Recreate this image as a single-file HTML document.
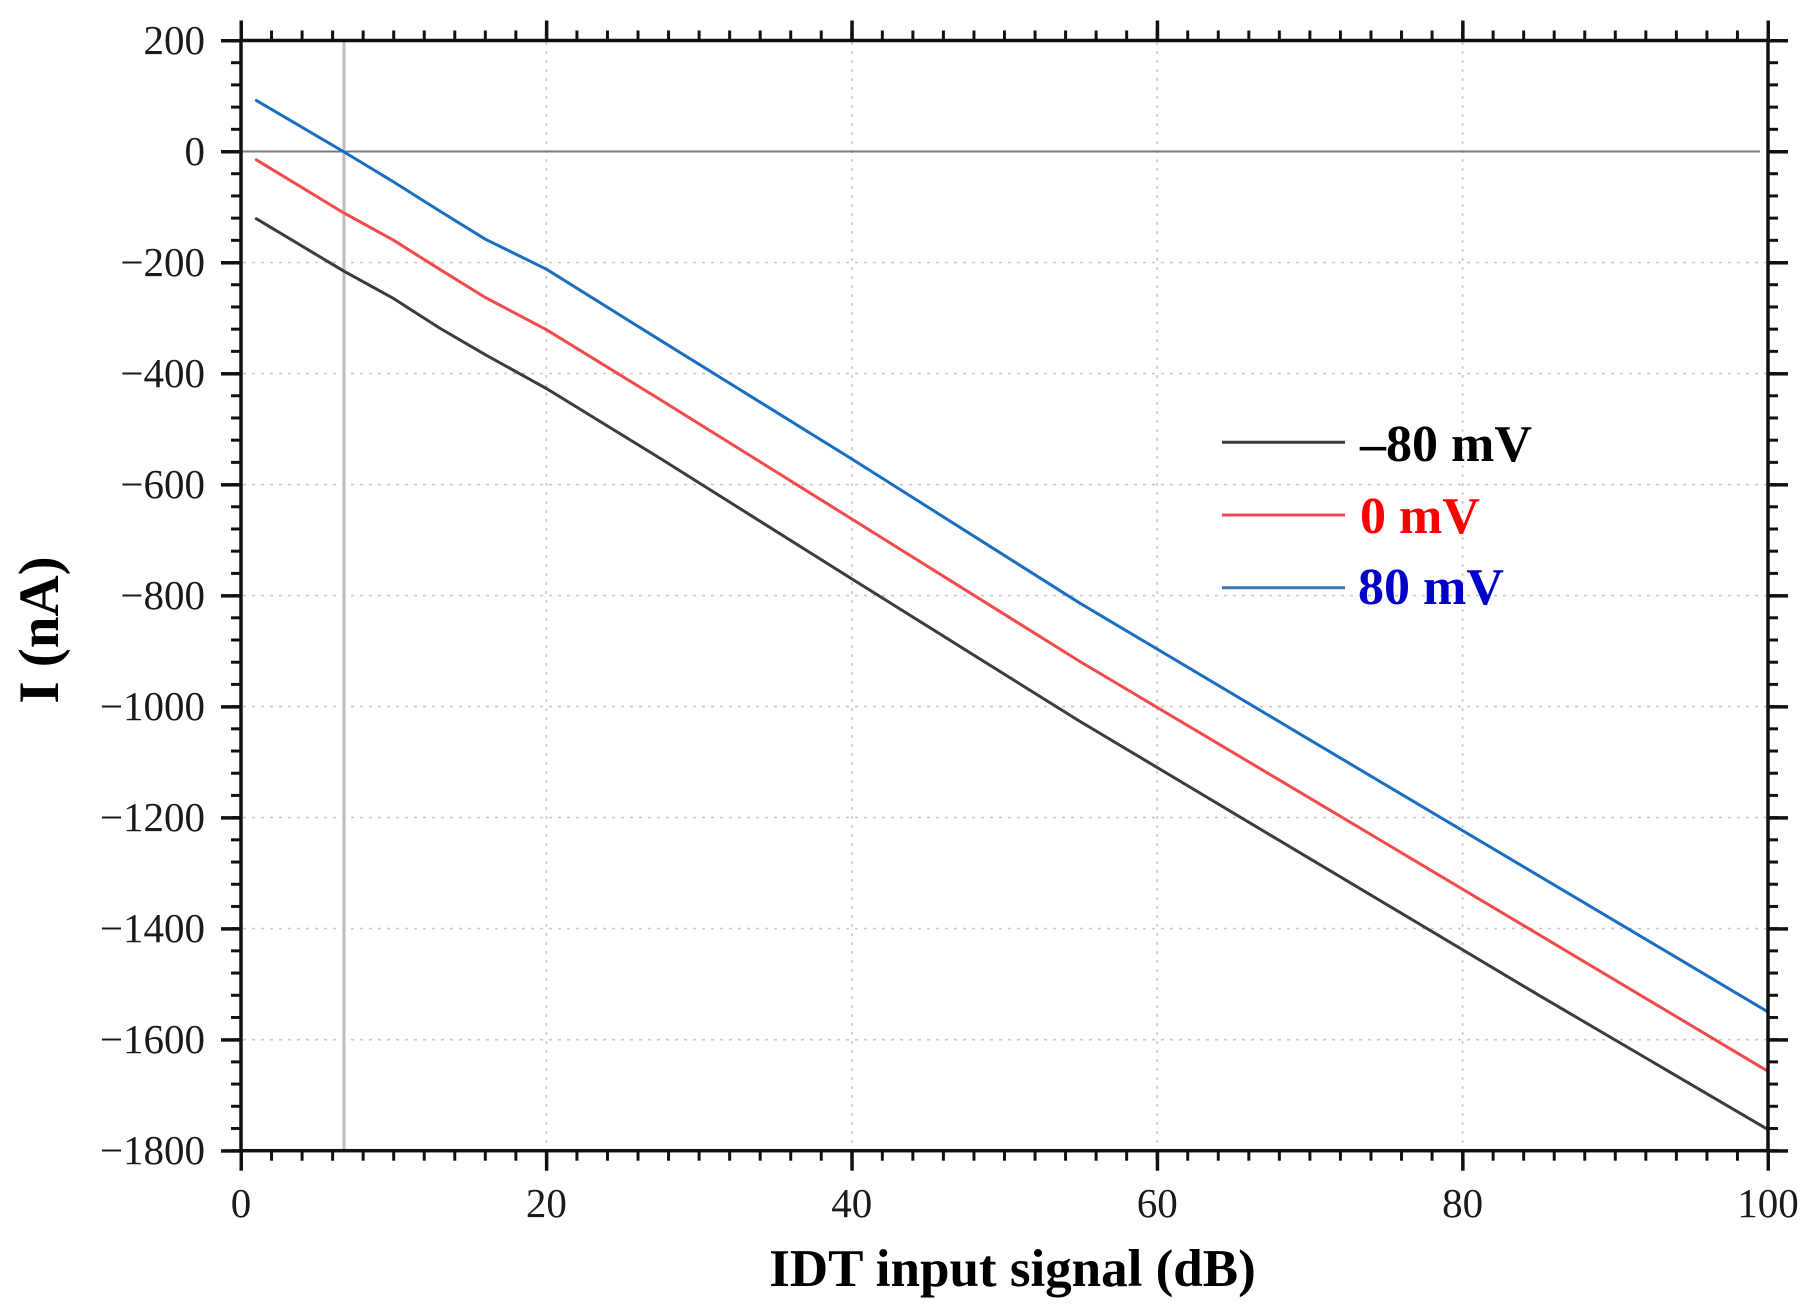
<!DOCTYPE html>
<html>
<head>
<meta charset="utf-8">
<style>
html,body{margin:0;padding:0;background:#fff;}
svg{display:block;}
text{font-family:"Liberation Serif","Times New Roman",serif;}
</style>
</head>
<body>
<svg width="1818" height="1314" viewBox="0 0 1818 1314" xmlns="http://www.w3.org/2000/svg">
<defs>
  <pattern id="xminB" patternUnits="userSpaceOnUse" x="239.5" y="1150.7" width="30.54" height="10"><rect x="0" y="0" width="3" height="10" fill="#111"/></pattern>
  <pattern id="xmajB" patternUnits="userSpaceOnUse" x="239.5" y="1150.7" width="305.4" height="20"><rect x="0" y="0" width="3.5" height="20" fill="#111"/></pattern>
  <pattern id="xminT" patternUnits="userSpaceOnUse" x="239.5" y="30.5" width="30.54" height="10"><rect x="0" y="0" width="3" height="10" fill="#111"/></pattern>
  <pattern id="xmajT" patternUnits="userSpaceOnUse" x="239.5" y="20.5" width="305.4" height="20"><rect x="0" y="0" width="3.5" height="20" fill="#111"/></pattern>
  <pattern id="yminL" patternUnits="userSpaceOnUse" x="231" y="39" width="10" height="22.204"><rect x="0" y="0" width="10" height="3" fill="#111"/></pattern>
  <pattern id="ymajL" patternUnits="userSpaceOnUse" x="221" y="39" width="20" height="111.02"><rect x="0" y="0" width="20" height="3.5" fill="#111"/></pattern>
  <pattern id="yminR" patternUnits="userSpaceOnUse" x="1768" y="39" width="10" height="22.204"><rect x="0" y="0" width="10" height="3" fill="#111"/></pattern>
  <pattern id="ymajR" patternUnits="userSpaceOnUse" x="1768" y="39" width="20" height="111.02"><rect x="0" y="0" width="20" height="3.5" fill="#111"/></pattern>
</defs>

<!-- grid -->
<g stroke="#c8c8c8" stroke-width="1.6" stroke-dasharray="3 6" fill="none">
  <line x1="546.4" y1="42" x2="546.4" y2="1149"/>
  <line x1="851.8" y1="42" x2="851.8" y2="1149"/>
  <line x1="1157.2" y1="42" x2="1157.2" y2="1149"/>
  <line x1="1462.6" y1="42" x2="1462.6" y2="1149"/>
  <line x1="243" y1="262.5" x2="1766" y2="262.5"/>
  <line x1="243" y1="373.5" x2="1766" y2="373.5"/>
  <line x1="243" y1="484.6" x2="1766" y2="484.6"/>
  <line x1="243" y1="595.6" x2="1766" y2="595.6"/>
  <line x1="243" y1="706.6" x2="1766" y2="706.6"/>
  <line x1="243" y1="817.6" x2="1766" y2="817.6"/>
  <line x1="243" y1="928.6" x2="1766" y2="928.6"/>
  <line x1="243" y1="1039.7" x2="1766" y2="1039.7"/>
</g>

<!-- zero line and vertical marker -->
<line x1="241" y1="151.5" x2="1760" y2="151.5" stroke="#7a7a7a" stroke-width="2"/>
<line x1="344" y1="40.5" x2="344" y2="1150.7" stroke="#bdbdbd" stroke-width="3"/>

<!-- series -->
<g fill="none" stroke-width="3" stroke-linejoin="round" stroke-linecap="round">
  <polyline stroke="#3c3c3c" points="256.3,218.7 343.3,270.8 393.7,298.6 439.5,328.0 485.3,354.7 546.4,388.5 659.4,457.9 851.8,578.9 1079.3,721.0 1309.9,858.7 1539.0,995.3 1768,1129.6"/>
  <polyline stroke="#f24a4a" points="256.3,159.8 343.3,212.6 393.7,240.3 439.5,269.2 485.3,297.5 546.4,329.7 659.4,399.1 851.8,519.0 1079.3,661.1 1309.9,798.2 1539.0,934.7 1768,1071.3"/>
  <polyline stroke="#1a6ec0" points="256.3,100.4 343.3,151.5 393.7,182.0 439.5,210.9 485.3,239.2 546.4,269.2 659.4,339.7 851.8,459.0 1079.3,602.8 1309.9,739.9 1539.0,875.9 1768,1011.9"/>
</g>

<!-- ticks -->
<rect x="238" y="1150.7" width="1534" height="10" fill="url(#xminB)"/>
<rect x="238" y="1150.7" width="1534" height="20" fill="url(#xmajB)"/>
<rect x="238" y="30.5" width="1534" height="10" fill="url(#xminT)"/>
<rect x="238" y="20.5" width="1534" height="20" fill="url(#xmajT)"/>
<rect x="231" y="38" width="10" height="1116" fill="url(#yminL)"/>
<rect x="221" y="38" width="20" height="1116" fill="url(#ymajL)"/>
<rect x="1768" y="38" width="10" height="1116" fill="url(#yminR)"/>
<rect x="1768" y="38" width="20" height="1116" fill="url(#ymajR)"/>

<!-- frame -->
<rect x="241" y="40.5" width="1527" height="1110.2" fill="none" stroke="#111" stroke-width="3.5"/>

<!-- y tick labels -->
<g font-size="41" fill="#1a1a1a" text-anchor="end">
  <text x="205" y="54">200</text>
  <text x="205" y="165">0</text>
  <text x="205" y="276">−200</text>
  <text x="205" y="387">−400</text>
  <text x="205" y="498">−600</text>
  <text x="205" y="609">−800</text>
  <text x="205" y="720">−1000</text>
  <text x="205" y="831">−1200</text>
  <text x="205" y="942">−1400</text>
  <text x="205" y="1053">−1600</text>
  <text x="205" y="1164">−1800</text>
</g>

<!-- x tick labels -->
<g font-size="41" fill="#1a1a1a" text-anchor="middle">
  <text x="241" y="1217">0</text>
  <text x="546.4" y="1217">20</text>
  <text x="851.8" y="1217">40</text>
  <text x="1157.2" y="1217">60</text>
  <text x="1462.6" y="1217">80</text>
  <text x="1768" y="1217">100</text>
</g>

<!-- axis titles -->
<text x="1012.5" y="1286" font-size="53" font-weight="bold" text-anchor="middle" fill="#000">IDT input signal (dB)</text>
<text transform="translate(58,630) rotate(-90)" font-size="57" font-weight="bold" text-anchor="middle" fill="#000">I (nA)</text>

<!-- legend -->
<g stroke-width="3">
  <line x1="1222" y1="442.3" x2="1345" y2="442.3" stroke="#3c3c3c"/>
  <line x1="1222" y1="515" x2="1345" y2="515" stroke="#f24a4a"/>
  <line x1="1222" y1="587.7" x2="1345" y2="587.7" stroke="#3a78b4"/>
</g>
<g font-size="52" font-weight="bold">
  <text x="1360" y="461" fill="#000">–80 mV</text>
  <text x="1360" y="533" fill="#ff0000">0 mV</text>
  <text x="1358" y="604" fill="#0000c8">80 mV</text>
</g>
</svg>
</body>
</html>
